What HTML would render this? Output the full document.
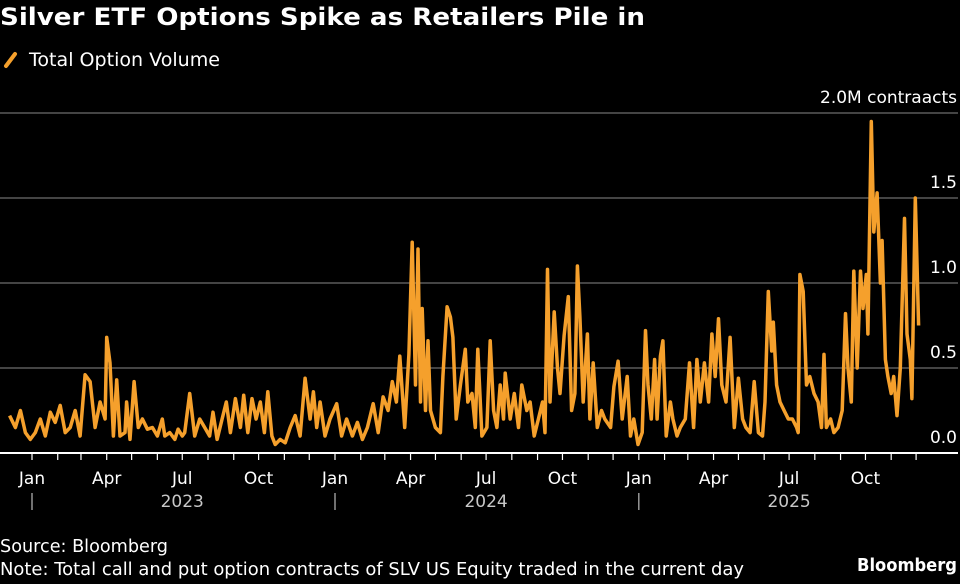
<!DOCTYPE html>
<html><head><meta charset="utf-8"><style>
body{margin:0;background:#000;width:960px;height:580px;overflow:hidden;font-family:"DejaVu Sans",sans-serif;color:#fff}
svg text{font-family:"DejaVu Sans","Liberation Sans",sans-serif}
</style></head><body>
<svg id="chart" width="960" height="580" xmlns="http://www.w3.org/2000/svg">
<rect width="960" height="580" fill="#000"/>
<text x="0" y="25" font-size="24" font-weight="bold" fill="#fff" textLength="645" lengthAdjust="spacingAndGlyphs">Silver ETF Options Spike as Retailers Pile in</text>
<line x1="6" y1="66" x2="15" y2="54" stroke="#f5a02c" stroke-width="4" stroke-linecap="round"/>
<text x="29" y="66" font-size="19" fill="#fff" textLength="191" lengthAdjust="spacingAndGlyphs">Total Option Volume</text>
<g id="grid"></g>
<g id="xaxis"></g>
<g id="series"></g>
<text x="0" y="552" font-size="18" fill="#fff" textLength="168" lengthAdjust="spacingAndGlyphs">Source: Bloomberg</text>
<text x="0" y="575" font-size="18" fill="#fff" textLength="744" lengthAdjust="spacingAndGlyphs">Note: Total call and put option contracts of SLV US Equity traded in the current day</text>
<text x="957" y="571" font-size="18" font-weight="bold" fill="#fff" text-anchor="end" textLength="100" lengthAdjust="spacingAndGlyphs">Bloomberg</text>
</svg>
<script>
// days since 2023-01-01
const days = [-27,-20,-14,-8,-2,4,10,16,22,28,34,40,46,52,58,64,70,76,82,88,90,94,98,102,106,112,114,118,123,128,133,139,145,151,157,160,166,172,176,181,184,190,196,202,208,214,218,223,229,234,239,245,251,255,260,265,270,275,280,284,289,293,299,305,311,317,323,329,335,339,343,347,353,359,367,373,379,386,392,398,404,411,417,423,429,434,439,443,449,454,458,462,465,468,470,474,477,480,486,492,495,500,504,507,511,516,522,525,530,534,537,542,548,552,556,560,564,568,570,576,581,586,590,596,600,605,610,615,618,621,624,629,633,636,641,646,650,654,657,660,664,669,672,676,681,686,690,697,701,706,711,717,721,725,730,735,739,742,746,750,753,757,760,764,769,772,777,781,787,792,797,801,805,810,815,819,823,827,831,836,841,846,851,856,860,865,870,875,880,883,887,891,893,897,901,906,911,916,921,923,925,929,933,937,942,947,951,954,957,962,966,971,976,980,983,987,990,994,998,1001,1005,1007,1011,1014,1018,1022,1024,1028,1031,1035,1038,1042,1046,1051,1054,1058,1060,1064,1068];
// millions of contracts
const volume = [.22,.15,.25,.12,.08,.12,.2,.1,.24,.18,.28,.12,.15,.25,.1,.46,.42,.15,.3,.2,.68,.53,.1,.43,.1,.12,.3,.08,.42,.15,.2,.14,.15,.1,.2,.1,.12,.08,.14,.1,.12,.35,.1,.2,.15,.1,.24,.08,.2,.3,.12,.32,.15,.34,.12,.32,.2,.3,.12,.36,.1,.05,.08,.06,.15,.22,.1,.44,.2,.36,.15,.3,.1,.2,.29,.1,.2,.1,.18,.08,.15,.29,.12,.33,.25,.42,.3,.57,.15,.58,1.24,.4,1.2,.3,.85,.25,.66,.25,.15,.12,.45,.86,.8,.68,.2,.4,.61,.3,.35,.15,.61,.1,.15,.66,.25,.15,.4,.2,.47,.2,.35,.15,.4,.25,.3,.1,.2,.3,.12,1.08,.3,.83,.5,.35,.69,.92,.25,.35,1.1,.8,.3,.7,.2,.53,.15,.25,.2,.15,.39,.54,.2,.45,.1,.2,.05,.12,.72,.4,.2,.55,.2,.57,.66,.1,.3,.2,.1,.15,.2,.53,.15,.55,.3,.53,.3,.7,.45,.79,.4,.3,.68,.15,.44,.2,.15,.12,.42,.12,.1,.3,.95,.6,.77,.4,.3,.25,.2,.2,.15,.12,1.05,.95,.4,.45,.35,.3,.15,.58,.15,.2,.12,.15,.25,.82,.5,.3,1.07,.5,1.07,.85,1.05,.7,1.95,1.3,1.53,1.0,1.25,.55,.45,.35,.45,.22,.5,1.38,.7,.55,.32,1.5,.75];
const yTicks = [0, 0.5, 1.0, 1.5, 2.0];
const yTickLabels = ["0.0","0.5","1.0","1.5","2.0M contraacts"];
const monthNames = ["Jan","Feb","Mar","Apr","May","Jun","Jul","Aug","Sep","Oct","Nov","Dec"];
const years = [2023, 2024, 2025];

const NS = "http://www.w3.org/2000/svg";
const X0 = 32, PX_PER_DAY = 303/365;
const Y0 = 453, PX_PER_UNIT = 170;
function xScale(d){ return X0 + d*PX_PER_DAY; }
function yScale(v){ return Y0 - v*PX_PER_UNIT; }
function dayOf(y,m){ return (Date.UTC(y,m,1)-Date.UTC(2023,0,1))/86400000; }
function mk(tag, attrs, parent){ const e=document.createElementNS(NS,tag); for(const k in attrs) e.setAttribute(k,attrs[k]); parent.appendChild(e); return e; }

const grid = document.getElementById('grid');
yTicks.forEach((t,i)=>{
  if(t>0){
    const l = mk('line',{x1:0,x2:958,y1:yScale(t),y2:yScale(t),stroke:'#5a5a5a','stroke-width':1.5},grid);
    
    
  }
  const tx = mk('text',{x:957,y:yScale(t)-10,'font-size':17,fill:'#fff','text-anchor':'end'},grid);
  tx.textContent = yTickLabels[i];
  
  
});

const xa = document.getElementById('xaxis');
const axisLine = mk('line',{x1:0,x2:958,y1:Y0,y2:Y0,stroke:'#fff','stroke-width':2},xa);


years.forEach(y=>{
  for(let m=0;m<12;m++){
    const x = xScale(dayOf(y,m));
    const tk = mk('line',{x1:x,x2:x,y1:Y0,y2:Y0+7,stroke:'#fff','stroke-width':1.2},xa);
    
    
    if(m%3===0){
      const lb = mk('text',{x:x,y:484,'font-size':17,fill:'#fff','text-anchor':'middle'},xa);
      lb.textContent = monthNames[m];
      
      
    }
  }
  const x0 = xScale(dayOf(y,0));
  const sep = mk('line',{x1:x0,x2:x0,y1:493,y2:510,stroke:'#bbb','stroke-width':1.2},xa);
  
  
  const yl = mk('text',{x:xScale(dayOf(y,6)),y:507,'font-size':17,fill:'#c8c8c8','text-anchor':'middle'},xa);
  yl.textContent = y;
  
  
});

const s = document.getElementById('series');
const pts = days.map((d,i)=>xScale(d).toFixed(1)+','+yScale(volume[i]).toFixed(1)).join(' ');
const pl = mk('polyline',{points:pts,fill:'none',stroke:'#f5a02c','stroke-width':3.5,'stroke-linejoin':'round'},s);


</script>
</body></html>
